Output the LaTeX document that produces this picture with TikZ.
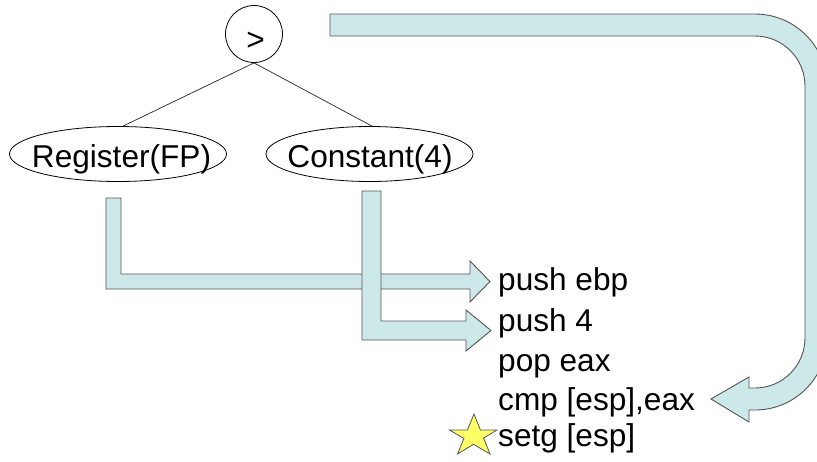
\documentclass[tikz,border=0pt]{standalone}
\usepackage{fontspec}
\setmainfont{Liberation Sans}
\usetikzlibrary{shapes.geometric}
\definecolor{flowfill}{RGB}{204,232,232}
\definecolor{flowline}{RGB}{85,85,85}
\definecolor{starfill}{RGB}{255,255,102}
\begin{document}
\begin{tikzpicture}[x=1pt,y=-1pt,
  font=\fontsize{31.6pt}{38pt}\selectfont,
  flow/.style={fill=flowfill, draw=flowline, line width=0.9pt, line join=miter},
  treeshape/.style={draw=black, line width=0.8pt, inner sep=0pt},
  treeedge/.style={draw=black!85, line width=0.7pt},
  labeltext/.style={anchor=base, inner sep=0pt},
  codeline/.style={anchor=base west, inner sep=0pt},
  starshape/.style={fill=starfill, draw=flowline, line width=0.8pt, line join=miter}]

\useasboundingbox (0,0) rectangle (817,461);
\clip (0,0) rectangle (817,461);

% result of the comparison flows round to the cmp instruction
\draw[flow] (330,14) -- (755,14)
  .. controls (794.8,14) and (827,46.2) .. (827,86)
  -- (827,338)
  .. controls (827,377.8) and (794.8,410) .. (755,410)
  -- (749,410) -- (749,422) -- (711,399) -- (749,377) -- (749,388) -- (755,388)
  .. controls (782.6,388) and (805,365.6) .. (805,338)
  -- (805,86)
  .. controls (805,58.4) and (782.6,36) .. (755,36)
  -- (330,36) -- cycle;

% Register(FP) -> push ebp
\draw[flow] (106,198) -- (106,289) -- (470,289) -- (470,302) -- (490,281.5)
  -- (470,261) -- (470,274) -- (121,274) -- (121,198) -- cycle;

% Constant(4) -> push 4
\draw[flow] (362,191) -- (362,340) -- (466,340) -- (466,351) -- (491,330.5)
  -- (466,310) -- (466,321) -- (381,321) -- (381,191) -- cycle;

% expression tree
\node[treeshape, circle, minimum size=57pt] (gt) at (254,34) {};
\node[labeltext] (gttext) at (255.5,50.5) {>};
\node[treeshape, ellipse, minimum width=217pt, minimum height=55pt] (reg) at (118,154) {};
\node[labeltext] (regtext) at (121.5,167) {Register(FP)};
\node[treeshape, ellipse, minimum width=207pt, minimum height=55pt] (cst) at (369.5,154) {};
\node[labeltext] (csttext) at (370,167) {Constant(4)};

\draw[treeedge] (gt.south) -- ([xshift=5pt]reg.north);
\draw[treeedge] (gt.south) -- ([xshift=2.5pt]cst.north);

% generated code
\node[codeline] (c1) at (498,290) {push ebp};
\node[codeline] (c2) at (498,331.7) {push 4};
\node[codeline] (c3) at (498,371.7) {pop eax};
\node[codeline] (c4) at (498,410) {cmp [esp],eax};
\node[codeline] (c5) at (498,446.7) {setg [esp]};

% marker on the last instruction
\draw[starshape] (474,414) -- (480.4,430) -- (497,430) -- (483.6,438.1) -- (490,454)
  -- (473.5,444.3) -- (457.5,454) -- (463.9,438.5) -- (449.5,430) -- (467.4,430) -- cycle;
\end{tikzpicture}
\end{document}
